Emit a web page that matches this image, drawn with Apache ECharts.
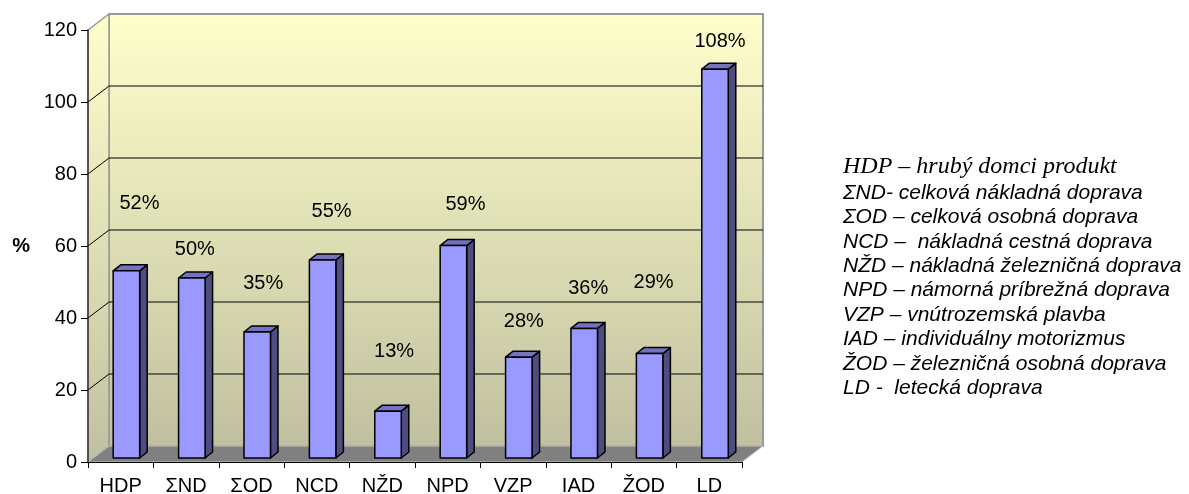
<!DOCTYPE html>
<html>
<head>
<meta charset="utf-8">
<script src="https://cdn.jsdelivr.net/npm/echarts@6/dist/echarts.min.js"></script>
<style>
html,body{margin:0;padding:0;background:#fff;}
#c{width:1189px;height:494px;}
</style>
</head>
<body>
<div id="c"></div>
<script>
// ---- data ----
var categories = ['HDP', 'ΣND', 'ΣOD', 'NCD', 'NŽD', 'NPD', 'VZP', 'IAD', 'ŽOD', 'LD'];
var values = [52, 50, 35, 55, 13, 59, 28, 36, 29, 108];
var yTicks = [0, 20, 40, 60, 80, 100, 120];
var legendLines = [
  'HDP – hrubý domci produkt',
  'ΣND- celková nákladná doprava',
  'ΣOD – celková osobná doprava',
  'NCD –  nákladná cestná doprava',
  'NŽD – nákladná železničná doprava',
  'NPD – námorná príbrežná doprava',
  'VZP – vnútrozemská plavba',
  'IAD – individuálny motorizmus',
  'ŽOD – železničná osobná doprava',
  'LD -  letecká doprava'
];
// label placement offsets (style, px) relative to top of each bar's front face
var labelOffsets = [[13,-67],[3,-29],[6,-49],[9,-49],[6,-60],[12,-41],[5,-36],[4,-40],[4,-71],[5,-28]];

// ---- style constants ----
var DEPTH_X = 21, DEPTH_Y = -16;
var FONT = '"Liberation Sans", Arial, sans-serif';

var chart = echarts.init(document.getElementById('c'));

function wallGrad() {
  return new echarts.graphic.LinearGradient(0, 0, 0, 1, [
    {offset: 0, color: '#FFFFCC'}, {offset: 1, color: '#C0C0A0'}
  ]);
}

function wallsRender(params, api) {
  var cs = params.coordSys;
  var x0 = cs.x, y0 = cs.y, w = cs.width, h = cs.height;
  var children = [];
  // back wall
  children.push({type: 'rect', shape: {x: x0 + DEPTH_X, y: y0 + DEPTH_Y, width: w, height: h},
    style: {fill: wallGrad(), stroke: '#999999', lineWidth: 2}});
  // left wall
  children.push({type: 'polygon', shape: {points: [[x0, y0], [x0 + DEPTH_X, y0 + DEPTH_Y], [x0 + DEPTH_X, y0 + h + DEPTH_Y], [x0, y0 + h]]},
    style: {fill: wallGrad(), stroke: '#999999', lineWidth: 1.5}});
  // floor
  children.push({type: 'polygon', shape: {points: [[x0, y0 + h], [x0 + w, y0 + h], [x0 + w + DEPTH_X, y0 + h + DEPTH_Y], [x0 + DEPTH_X, y0 + h + DEPTH_Y]]},
    style: {fill: '#808080', stroke: '#C8C8C8', lineWidth: 1}});
  // gridlines
  for (var i = 0; i < yTicks.length; i++) {
    var v = yTicks[i];
    if (v === 0 || v === 120) continue;
    var y = api.coord([0, v])[1];
    children.push({type: 'polyline', shape: {points: [[x0, y], [x0 + DEPTH_X, y + DEPTH_Y], [x0 + w + DEPTH_X, y + DEPTH_Y]]},
      style: {stroke: '#000', lineWidth: 1, fill: null}});
  }
  return {type: 'group', children: children};
}

function barRender(params, api) {
  var idx = api.value(0), val = api.value(1);
  var base = api.coord([idx, 0]);
  var topPt = api.coord([idx, val]);
  var bw = api.size([1, 0])[0];
  var lift = DEPTH_Y * 0.25;
  var fl = base[0] - bw / 2 + bw * 0.385;
  var fw = bw * 0.405;
  var ddx = bw * 0.115, ddy = -6;
  var b = base[1] + lift, t = topPt[1] + lift;
  var off = labelOffsets[params.dataIndex];
  var edge = {stroke: '#000', lineWidth: 1.5, lineJoin: 'round'};
  return {type: 'group', children: [
    {type: 'polygon', shape: {points: [[fl + fw, t], [fl + fw + ddx, t + ddy], [fl + fw + ddx, b + ddy], [fl + fw, b]]},
      style: Object.assign({fill: '#4D4D80'}, edge)},
    {type: 'polygon', shape: {points: [[fl, t], [fl + ddx, t + ddy], [fl + fw + ddx, t + ddy], [fl + fw, t]]},
      style: Object.assign({fill: '#7373BF'}, edge)},
    {type: 'rect', shape: {x: fl, y: t, width: fw, height: b - t},
      style: Object.assign({fill: '#9999FF'}, edge)},
    {type: 'text', x: fl + fw / 2 + off[0], y: t + off[1],
      style: {text: val + '%', fill: '#000', font: '20px ' + FONT, align: 'center', verticalAlign: 'middle'}}
  ]};
}

var legendGraphics = legendLines.map(function (txt, i) {
  return {
    type: 'text', left: 843, top: (i === 0 ? 155 : 158) + i * 24.4,
    style: {
      text: txt, fill: '#000',
      font: i === 0 ? 'italic 24px "Liberation Serif", "Times New Roman", serif' : 'italic 21px ' + FONT
    }
  };
});

var option = {
  animation: false,
  backgroundColor: '#fff',
  grid: {left: 88, right: 447, top: 30, bottom: 32, containLabel: false, outerBoundsMode: 'none'},
  xAxis: {
    type: 'category', data: categories, boundaryGap: true, z: 5,
    axisLine: {show: true, lineStyle: {color: '#000', width: 1}},
    axisTick: {show: true, length: 6, inside: false, lineStyle: {color: '#000'}},
    axisLabel: {color: '#000', fontSize: 20, fontFamily: FONT, margin: 14, interval: 0},
    splitLine: {show: false}
  },
  yAxis: {
    type: 'value', min: 0, max: 120, interval: 20, z: 5,
    name: '%', nameLocation: 'middle', nameRotate: 0, nameGap: 58,
    nameTextStyle: {color: '#000', fontSize: 20, fontWeight: 'bold', fontFamily: FONT},
    axisLine: {show: true, lineStyle: {color: '#333', width: 1.5}},
    axisTick: {show: true, length: 7, inside: false, lineStyle: {color: '#000'}},
    axisLabel: {color: '#000', fontSize: 20, fontFamily: FONT, margin: 11},
    splitLine: {show: false}
  },
  graphic: legendGraphics,
  series: [
    {type: 'custom', z: 0, renderItem: wallsRender, data: [[0, 0]], silent: true, clip: false},
    {type: 'custom', z: 3, renderItem: barRender, clip: false,
      data: values.map(function (v, i) { return [i, v]; })}
  ]
};
chart.setOption(option);
</script>
</body>
</html>
